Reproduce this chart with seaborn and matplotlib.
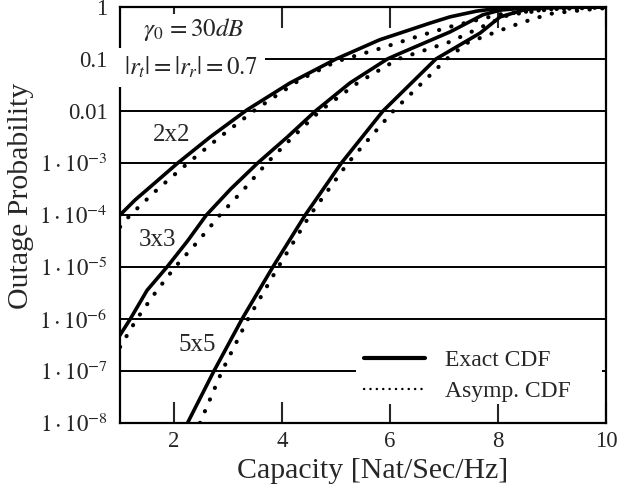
import numpy as np
import pandas as pd
import matplotlib
matplotlib.use("Agg")
import matplotlib.pyplot as plt
from matplotlib.lines import Line2D
from matplotlib.patches import Rectangle
import seaborn as sns

# ---- data (capacity in Nat/Sec/Hz, log10 of outage probability) ----
cap_2x2_exact = [1.0, 1.28, 1.56, 2.07, 2.67, 3.35, 4.15, 5.0, 5.81, 6.19, 6.74, 7.11, 7.6, 8.04, 8.5, 10.0]
log_2x2_exact = [-4.0, -3.71, -3.46, -3.0, -2.5, -1.98, -1.46, -1.0, -0.63, -0.5, -0.31, -0.19, -0.08, -0.02, -0.005, 0.0]
cap_2x2_asymp = [1.0, 1.19, 1.7, 2.26, 2.85, 3.5, 4.33, 5.0, 5.81, 6.56, 7.11, 8.04, 9.0, 10.0]
log_2x2_asymp = [-4.23, -4.0, -3.5, -3.0, -2.5, -1.98, -1.4, -1.05, -0.8, -0.55, -0.38, -0.14, -0.04, -0.01]

cap_3x3_exact = [1.0, 1.19, 1.5, 1.87, 2.25, 2.6, 3.05, 3.55, 4.1, 4.62, 5.26, 5.95, 6.19, 7.11, 7.72, 8.04, 8.6, 10.0]
log_3x3_exact = [-6.31, -6.0, -5.45, -5.0, -4.5, -4.0, -3.5, -3.0, -2.5, -2.0, -1.46, -1.0, -0.89, -0.48, -0.15, -0.06, -0.01, 0.0]
cap_3x3_asymp = [1.0, 1.31, 1.65, 2.02, 2.45, 2.85, 3.3, 3.72, 4.2, 4.7, 5.4, 6.15, 7.11, 7.85, 8.2, 9.0, 10.0]
log_3x3_asymp = [-6.54, -6.0, -5.5, -5.0, -4.5, -4.0, -3.5, -3.0, -2.5, -2.0, -1.46, -1.0, -0.67, -0.31, -0.15, -0.04, -0.01]

cap_5x5_exact = [2.25, 2.74, 3.26, 3.83, 4.43, 5.1, 5.87, 6.85, 7.67, 8.04, 8.5, 9.0, 10.0]
log_5x5_exact = [-8.0, -7.0, -6.0, -5.0, -4.0, -3.0, -2.0, -1.0, -0.5, -0.19, -0.05, -0.01, 0.0]
cap_5x5_asymp = [2.48, 2.89, 3.37, 3.93, 4.52, 5.22, 6.06, 7.05, 7.43, 8.04, 8.41, 8.78, 9.02, 9.57, 10.0]
log_5x5_asymp = [-8.0, -7.0, -6.0, -5.0, -4.0, -3.0, -2.0, -1.0, -0.69, -0.45, -0.31, -0.19, -0.12, -0.06, -0.02]

x_ticks = [2, 4, 6, 8, 10]
y_ticks = [1, 0.1, 0.01, 1e-3, 1e-4, 1e-5, 1e-6, 1e-7, 1e-8]
y_tick_labels = ["1", "0.1", "0.01", r"$1\cdot10^{-3}$", r"$1\cdot10^{-4}$", r"$1\cdot10^{-5}$",
                 r"$1\cdot10^{-6}$", r"$1\cdot10^{-7}$", r"$1\cdot10^{-8}$"]
size_labels = ["2x2", "3x3", "5x5"]
size_label_pos = [(1.96, -2.46), (1.69, -4.48), (2.43, -6.5)]

# ---- build tidy frame ----
rows = []
series = [
    ("2x2", "Exact CDF", cap_2x2_exact, log_2x2_exact),
    ("2x2", "Asymp. CDF", cap_2x2_asymp, log_2x2_asymp),
    ("3x3", "Exact CDF", cap_3x3_exact, log_3x3_exact),
    ("3x3", "Asymp. CDF", cap_3x3_asymp, log_3x3_asymp),
    ("5x5", "Exact CDF", cap_5x5_exact, log_5x5_exact),
    ("5x5", "Asymp. CDF", cap_5x5_asymp, log_5x5_asymp),
]
for size, kind, xs, ls in series:
    for x, l in zip(xs, ls):
        rows.append({"size": size, "kind": kind, "cap": x, "p": 10.0 ** l})
df = pd.DataFrame(rows)

sns.set_style("ticks")
plt.rcParams["font.family"] = ["Liberation Serif", "DejaVu Serif"]
plt.rcParams["mathtext.fontset"] = "stix"

fig = plt.figure(figsize=(6.22, 4.92), dpi=100)
ax = fig.add_axes([120 / 622, 1 - 423 / 492, 486 / 622, 416 / 492])

for size, kind, _, _ in series:
    sub = df[(df["size"] == size) & (df["kind"] == kind)]
    if kind == "Exact CDF":
        sns.lineplot(data=sub, x="cap", y="p", ax=ax, color="black", lw=2.6,
                     estimator=None, sort=False, legend=False, zorder=4)
    else:
        sns.lineplot(data=sub, x="cap", y="p", ax=ax, color="black", lw=3.0,
                     linestyle=(0, (0.05, 3.0)), dash_capstyle="round",
                     estimator=None, sort=False, legend=False, zorder=4)

ax.set_yscale("log")
ax.set_xlim(1, 10)
ax.set_ylim(1e-8, 1)
ax.set_xticks(x_ticks)
ax.set_xticklabels([str(t) for t in x_ticks])
ax.set_yticks(y_ticks)
ax.set_yticklabels(y_tick_labels)
ax.minorticks_off()
ax.tick_params(axis="x", direction="in", length=15, width=1.5, top=True, labelsize=16.5, pad=6)
ax.tick_params(axis="y", length=0, labelsize=16.5, pad=9)
for s in ax.spines.values():
    s.set_linewidth(1.6)
    s.set_color("black")
ax.set_axisbelow(True)
ax.grid(axis="y", color="black", lw=1.4)
ax.grid(axis="x", visible=False)

ax.set_xlabel("Capacity [Nat/Sec/Hz]", fontsize=21.5)
ax.xaxis.set_label_coords((373 - 120) / 486, -0.083)
ax.set_ylabel("Outage Probability", fontsize=21.5)
ax.yaxis.set_label_coords((34 - 120) / 486, (423 - 196) / 416)

for lab, (xx, ll) in zip(size_labels, size_label_pos):
    ax.text(xx, 10 ** ll, lab, fontsize=18, ha="center", va="center", zorder=3,
            bbox=dict(facecolor="white", edgecolor="none", pad=1))

ax.text(2.37, 10 ** -0.44, r"$\gamma_0\,=30dB$", fontsize=18, ha="center", va="center", zorder=3,
        bbox=dict(facecolor="white", edgecolor="none", pad=2))
ax.text(1.08, 10 ** -1.17, r"$|r_t|=|r_r|=0.7$", fontsize=18, ha="left", va="center", zorder=3,
        bbox=dict(facecolor="white", edgecolor="none", pad=5))

# white panel behind the legend (covers the grid line like the original)
ax.add_patch(Rectangle(((356 - 120) / 486, (423 - 404) / 416), (602 - 356) / 486, 60 / 416,
                       transform=ax.transAxes, facecolor="white", edgecolor="none", zorder=4.5))

handles = [Line2D([], [], color="black", lw=3),
           Line2D([], [], color="black", lw=1.7, linestyle=(0, (0.1, 2.6)), dash_capstyle="round")]
leg = ax.legend(handles, ["Exact CDF", "Asymp. CDF"], loc="lower left",
                bbox_to_anchor=((346 - 120) / 486, 0.008),
                fontsize=17, frameon=False,
                handlelength=2.6, handletextpad=0.85, borderpad=0.25, labelspacing=0.4)
leg.set_zorder(5)

fig.savefig("out.png", dpi=100)
